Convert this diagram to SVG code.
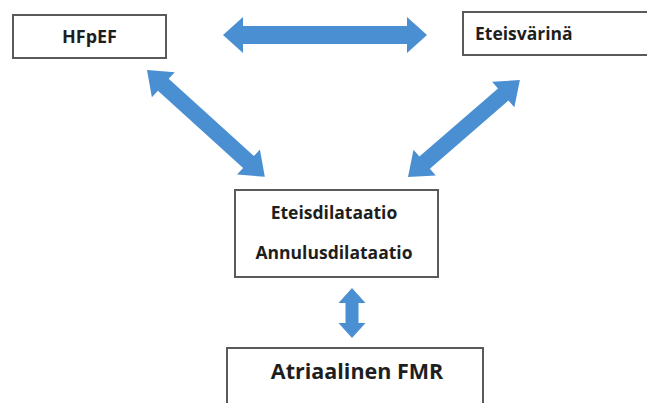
<svg xmlns="http://www.w3.org/2000/svg" width="647" height="403" viewBox="0 0 647 403">
<style>
.box{fill:#fff;stroke:#5a5a5a;stroke-width:2}
.t{font-family:"Open Sans","Liberation Sans",sans-serif;font-weight:bold;fill:#1e1e1e}
.arr{fill:#4a8fd2}
</style>
<rect width="647" height="403" fill="#fff"/>
<g id="hfpef">
<rect class="box" x="13" y="15" width="153" height="43"/>
<text class="t" x="89.5" y="43" font-size="18" text-anchor="middle">HFpEF</text>
</g>
<g id="eteisvarina">
<rect class="box" x="463" y="12" width="200" height="43"/>
<text class="t" x="475" y="40" font-size="17.5">Eteisvärinä</text>
</g>
<g id="dilataatio">
<rect class="box" x="235" y="190" width="203" height="87"/>
<text class="t" x="334" y="219" font-size="17.5" text-anchor="middle">Eteisdilataatio</text>
<text class="t" x="334" y="259" font-size="17.5" text-anchor="middle">Annulusdilataatio</text>
</g>
<g id="fmr">
<rect class="box" x="227" y="348" width="256" height="70"/>
<text class="t" x="357" y="379" font-size="21.5" text-anchor="middle">Atriaalinen FMR</text>
</g>
<g id="connectors">
<path class="arr" transform="translate(223,35)" d="M0,0 L20,-18 L20,-9 L184,-9 L184,-18 L204,0 L184,18 L184,9 L20,9 L20,18 Z"/>
<path class="arr" transform="translate(147,70) rotate(42.2)" d="M0,0 L22,-17 L22,-8 L137,-8 L137,-17 L159,0 L137,17 L137,8 L22,8 L22,17 Z"/>
<path class="arr" transform="translate(408,177) rotate(-40.9)" d="M0,0 L22,-17 L22,-8 L126,-8 L126,-17 L148,0 L126,17 L126,8 L22,8 L22,17 Z"/>
<path class="arr" transform="translate(352,288) rotate(90)" d="M0,0 L15,-13.5 L15,-6.5 L35,-6.5 L35,-13.5 L50,0 L35,13.5 L35,6.5 L15,6.5 L15,13.5 Z"/>
</g>
</svg>
